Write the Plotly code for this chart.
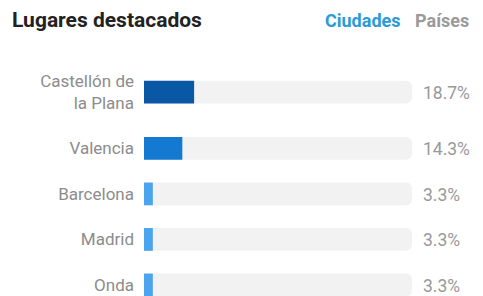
import plotly.graph_objects as go

# ---- data ----
labels = ["Castellón de<br>la Plana", "Valencia", "Barcelona", "Madrid", "Onda"]
values = [18.7, 14.3, 3.3, 3.3, 3.3]
value_text = ["18.7%", "14.3%", "3.3%", "3.3%", "3.3%"]
total = 100

# ---- styles ----
bar_colors = ["#0a57a6", "#1479d0", "#4aa5ee", "#4aa5ee", "#4aa5ee"]
track_color = "#f2f2f2"
label_color = "#8c8c8c"
FONT = "Roboto"

OFF = 8  # page body margin
W, H = 483 - OFF, 296 - OFF
L, R, T, B = 144 - OFF, 71, 60 - OFF, 0
unit_px = 45.5
first_center_px = 92 - OFF

# row positions: a two-line label adds a little extra gap after it
positions = []
p = 0.0
for lab in labels:
    positions.append(p)
    p += 1 + 0.24 * lab.count("<br>")

plot_h = H - T - B
top = -(first_center_px - T) / unit_px
yrange = [top + plot_h / unit_px, top]

fig = go.Figure()
fig.add_trace(go.Bar(
    x=[total] * len(values), y=positions, orientation="h",
    marker=dict(color=track_color, cornerradius=6, line=dict(width=0)),
    width=0.5, hoverinfo="skip", showlegend=False,
))
fig.add_trace(go.Bar(
    x=values, y=positions, orientation="h",
    marker=dict(color=bar_colors, cornerradius=5, line=dict(width=0)),
    width=0.5, showlegend=False,
))

annotations = []
for pos, t in zip(positions, value_text):
    annotations.append(dict(
        x=total, y=pos, xref="x", yref="y", text=t, showarrow=False,
        xanchor="left", yanchor="middle", xshift=9, yshift=-1,
        font=dict(family=FONT, size=17.5, color="#999999"),
    ))

def px_to_paper_x(px):
    return (px - OFF - L) / (W - L - R)

def px_to_paper_y(py):
    return (H - B - (py - OFF)) / plot_h

annotations.append(dict(
    x=px_to_paper_x(10), y=px_to_paper_y(20), xref="paper", yref="paper",
    text="<b>Lugares destacados</b>", showarrow=False, xanchor="left", yanchor="middle",
    font=dict(family=FONT, size=21, color="#222222"),
))
annotations.append(dict(
    x=px_to_paper_x(323), y=px_to_paper_y(20), xref="paper", yref="paper",
    text="<b>Ciudades</b>", showarrow=False, xanchor="left", yanchor="middle",
    font=dict(family=FONT, size=18, color="#2b9ad6"),
))
annotations.append(dict(
    x=px_to_paper_x(413), y=px_to_paper_y(20), xref="paper", yref="paper",
    text="<b>Países</b>", showarrow=False, xanchor="left", yanchor="middle",
    font=dict(family=FONT, size=18, color="#9a9a9a"),
))

fig.update_layout(
    width=W, height=H,
    margin=dict(l=L, r=R, t=T, b=B, pad=0),
    barmode="overlay",
    plot_bgcolor="white", paper_bgcolor="white",
    annotations=annotations,
    xaxis=dict(range=[0, total], visible=False, fixedrange=True),
    yaxis=dict(
        range=yrange, tickmode="array", tickvals=positions, ticktext=labels,
        showgrid=False, zeroline=False, showline=False, ticks="",
        ticklabelstandoff=9,
        tickfont=dict(family=FONT, size=17, color=label_color),
        fixedrange=True,
    ),
    font=dict(family=FONT),
)

fig.write_html("out.html")
